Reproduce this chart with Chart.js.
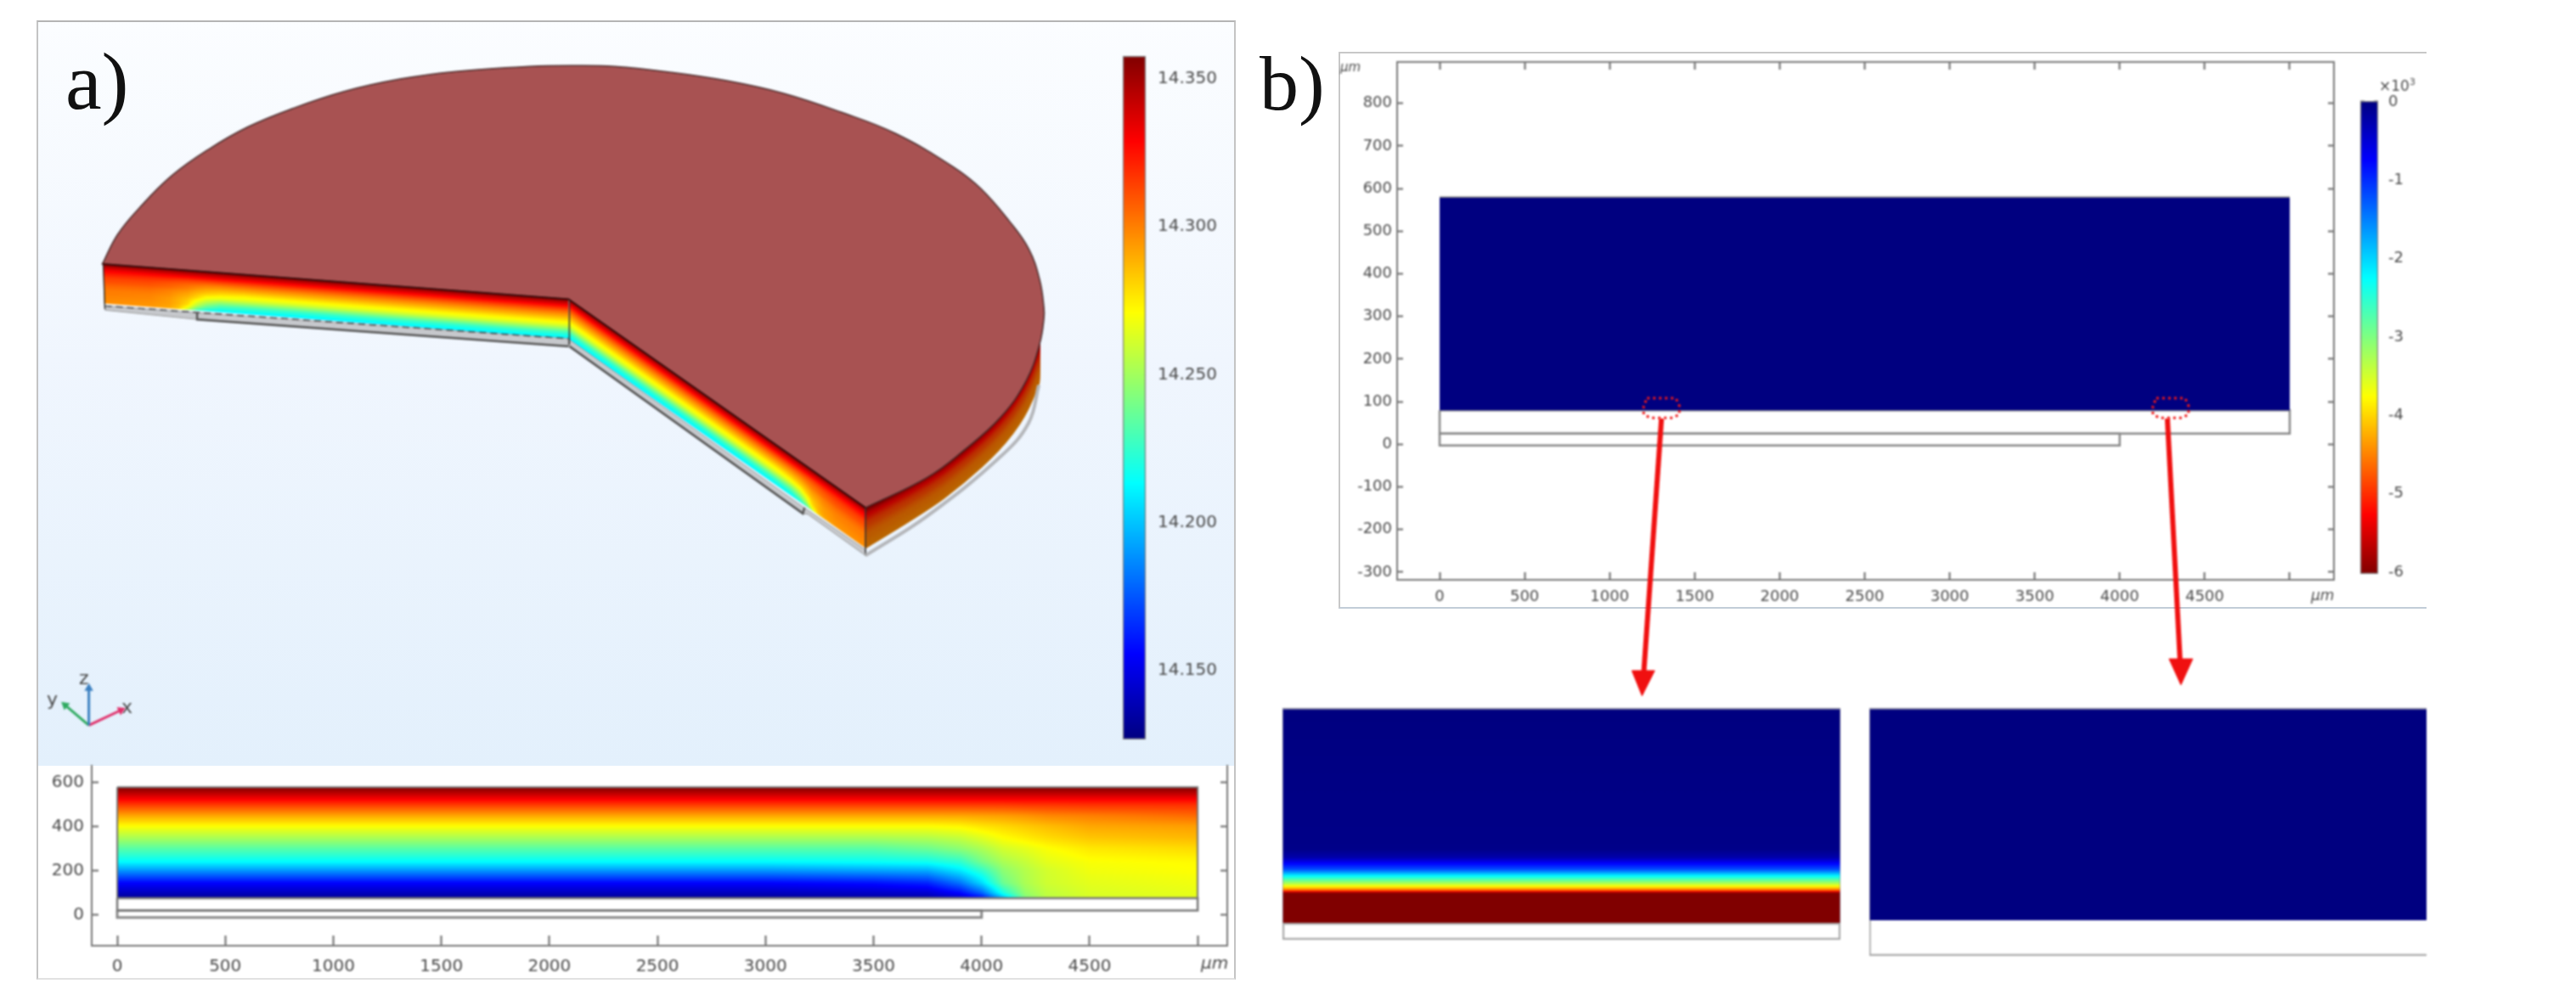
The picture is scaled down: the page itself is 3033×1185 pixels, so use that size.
<!DOCTYPE html>
<html>
<head>
<meta charset="utf-8">
<title>Temperature and stress fields</title>
<script src="https://cdn.jsdelivr.net/npm/chart.js@4/dist/chart.umd.min.js"></script>
<style>
  html, body { margin: 0; background: #fff; overflow: hidden; }
  #page { position: relative; width: 3033px; height: 1185px; overflow: hidden; }
  canvas { position: absolute; filter: blur(1.1px); }
  .frame { position: absolute; box-sizing: border-box; }
  .lbl { position: absolute; font-family: "DejaVu Sans", sans-serif; color: #4a4a4a; filter: blur(0.8px); white-space: nowrap; }
  .tag { position: absolute; font-family: "Liberation Serif", serif; color: #111; filter: blur(0.7px); line-height: 1; }
</style>
</head>
<body>
<div id="page">
  <div class="frame" style="left:43px;top:24px;width:1412px;height:1130px;border:2px solid #c4c4c4;border-top-color:#b4b4b4;border-bottom-color:#e2e2e2;"></div>
  <div class="frame" style="left:45px;top:26px;width:1408px;height:876px;background:linear-gradient(#fbfdff,#f0f6fe 45%,#e3f0fc);"></div>
  <div class="frame" style="left:1576px;top:61px;width:1281px;height:656px;border:2px solid #c8c8c8;border-right:none;border-bottom-color:#c2cdd8;"></div>
  <div class="tag" style="left:77px;top:48px;font-size:96px;">a)</div>
  <div class="tag" style="left:1483px;top:52px;font-size:92px;">b)</div>
  <div class="lbl" style="left:93px;top:786px;font-size:22px;">z</div>
  <div class="lbl" style="left:55px;top:811px;font-size:22px;">y</div>
  <div class="lbl" style="left:143px;top:820px;font-size:22px;">x</div>
  <div class="lbl" style="left:1414px;top:1122px;font-size:20px;font-style:italic;">μm</div>
  <div class="lbl" style="left:1578px;top:70px;font-size:15px;font-style:italic;">μm</div>
  <div class="lbl" style="left:2721px;top:691px;font-size:17px;font-style:italic;">μm</div>
  <div class="lbl" style="left:2801px;top:90px;font-size:17px;">×10<sup style="font-size:11px;">3</sup></div>
</div>

<script>
// --- axis ticks ---
const xTicks = [0, 500, 1000, 1500, 2000, 2500, 3000, 3500, 4000, 4500, 5000];
const xTickLabels = ["0", "500", "1000", "1500", "2000", "2500", "3000", "3500", "4000", "4500", ""];
const yTicksA = [0, 200, 400, 600];
const yTicksB = [-300, -200, -100, 0, 100, 200, 300, 400, 500, 600, 700, 800];
const tempTicks = [14.15, 14.20, 14.25, 14.30, 14.35];
const stressTicks = [-6, -5, -4, -3, -2, -1, 0];

// --- colour bar ranges ---
const tempRange = [14.1268, 14.3577];
const stressRange = [-6.02, 0.01];

// --- temperature field read off panel a), um and colour bar units ---
const fieldX = [0, 3000, 3500, 3750, 3900, 4000, 4100, 4200, 4300, 4500, 5000];
const fieldY = [76, 100, 145, 200, 241, 300, 350, 403, 450, 500, 524, 560, 580];
const fieldT = [
  [14.131, 14.131, 14.134, 14.135, 14.143, 14.155, 14.196, 14.242, 14.256, 14.262, 14.265],
  [14.141, 14.141, 14.143, 14.145, 14.157, 14.178, 14.219, 14.247, 14.257, 14.263, 14.266],
  [14.156, 14.156, 14.159, 14.164, 14.182, 14.205, 14.238, 14.252, 14.260, 14.265, 14.268],
  [14.189, 14.189, 14.192, 14.194, 14.208, 14.224, 14.245, 14.254, 14.261, 14.268, 14.271],
  [14.213, 14.213, 14.215, 14.217, 14.224, 14.240, 14.252, 14.258, 14.265, 14.270, 14.272],
  [14.233, 14.233, 14.233, 14.238, 14.245, 14.252, 14.261, 14.265, 14.270, 14.276, 14.279],
  [14.252, 14.252, 14.252, 14.254, 14.258, 14.264, 14.271, 14.275, 14.279, 14.284, 14.287],
  [14.271, 14.271, 14.271, 14.271, 14.273, 14.277, 14.280, 14.283, 14.286, 14.291, 14.293],
  [14.291, 14.291, 14.291, 14.291, 14.291, 14.292, 14.293, 14.295, 14.298, 14.300, 14.305],
  [14.316, 14.316, 14.316, 14.316, 14.316, 14.316, 14.316, 14.317, 14.317, 14.318, 14.318],
  [14.329, 14.329, 14.329, 14.329, 14.329, 14.329, 14.329, 14.329, 14.329, 14.329, 14.329],
  [14.348, 14.348, 14.348, 14.348, 14.348, 14.348, 14.348, 14.348, 14.348, 14.348, 14.348],
  [14.358, 14.358, 14.358, 14.358, 14.358, 14.358, 14.358, 14.358, 14.358, 14.358, 14.358]
];
// the 3D walls only reach down to cyan, so their colour span is narrower
const wallSpan = 0.66;

// --- device layers, um ---
const layerUpperX = [0, 5000, 5000, 0, 0];
const layerUpperYA = [76, 76, 20, 20, 76];
const layerUpperYB = [80, 80, 25, 25, 80];
const layerLowerX = [0, 4000, 4000, 0, 0];
const layerLowerYA = [20, 20, -12, -12, 20];
const layerLowerYB = [25, 25, -3, -3, 25];
const outlineX = [0, 5000, 5000, 0, 0];
const outlineYA = [580, 580, 76, 76, 580];

// --- panel b) field and zoom markers, um ---
const fieldBX = [0, 5000];
const fieldBTop = [580, 580];
const fieldBBase = 80;
const markLeftX = [1220, 1390, 1410, 1410, 1370, 1240, 1200, 1200, 1220];
const markRightX = [4215, 4385, 4405, 4405, 4365, 4235, 4195, 4195, 4215];
const markY = [108, 108, 90, 70, 62, 62, 70, 90, 108];

// --- stress profile of the left inset, height and stress (x10^3) ---
const insetHeight = [20, 55, 57, 59, 63, 67, 75, 83, 90, 97, 107, 273];
const insetStress = [-6, -6, -5.2, -4.5, -3.75, -3.2, -2.25, -1.2, -0.75, -0.25, -0.05, 0];
const insetLeftRange = [0, 273];
const insetLeftField = [20, 273];
const insetLeftLayer = [0, 20];
const insetRightRange = [0, 292];
const insetRightField = [42, 292];
const insetRightLayer = [0, 42];

// --- 3D view outlines in view units ---
const discX = [666, 666, 115, 115, 133, 160, 197, 240, 287, 340, 400, 467, 533, 620, 670, 720, 787, 853, 920, 987, 1053, 1120, 1153, 1187, 1210, 1223, 1228, 1228, 1223, 1207, 1177, 1133, 1090, 1017, 1017, 666, 666];
const discY = [350, 350, 308, 308, 273, 240, 203, 172, 145, 123, 103, 88, 79, 73, 72, 73, 80, 90, 105, 127, 153, 192, 218, 257, 290, 327, 360, 373, 403, 447, 490, 530, 562, 598, 598, 350, 350];
const notchX = [115, 666, 1017];
const notchY = [308, 350, 598];
const rimX = [1223, 1207, 1177, 1133, 1090, 1017];
const rimTopY = [403, 447, 490, 530, 562, 598];
const rimBaseY = [450, 490, 530, 570, 603, 647];
const rimEdgeX = [1017, 1090, 1177, 1210, 1222];
const rimEdgeY = [655, 608, 537, 497, 452];
// wall corners: x=0 top, x=5000 top, x=0 base
const wallLeftX = [666, 116, 667];
const wallLeftY = [350, 308, 397];
const wallRightX = [667, 1017, 667];
const wallRightY = [350, 598, 398];
const slabLeftX = [118, 227, 227, 666, 666, 227, 118];
const slabLeftY = [358, 366, 366, 397, 406, 374, 363];
const slabRightX = [667, 943, 1017, 1017, 949, 943, 667];
const slabRightY = [398, 597, 648, 655, 606, 605, 406];
const edgeLowerLeftX = [227, 227, 666];
const edgeLowerLeftY = [366, 374, 406];
const edgeLowerRightX = [667, 943, 945];
const edgeLowerRightY = [406, 605, 598];
const dashLeftX = [118, 666];
const dashLeftY = [358, 397];
const cornerAX = [667, 667];
const cornerAY = [350, 404];
const cornerBX = [116, 118];
const cornerBY = [308, 362];
const cornerCX = [1017, 1017];
const cornerCY = [598, 652];

// --- orientation triad ---
const triadZX = [99, 99];
const triadZY = [857, 813];
const triadXX = [99, 137];
const triadXY = [857, 839];
const triadYX = [99, 71];
const triadYY = [857, 833];

// --- arrows linking panel b) to the insets ---
const arrowLeftX = [1958, 1937];
const arrowLeftY = [492, 795];
const headLeftX = [1923, 1950, 1935, 1923];
const headLeftY = [792, 792, 822, 792];
const arrowRightX = [2556, 2571];
const arrowRightY = [492, 780];
const headRightX = [2558, 2586, 2572, 2558];
const headRightY = [778, 778, 809, 778];

// --- rainbow colour map ---
const jetPos = [0, 0.125, 0.375, 0.625, 0.875, 1];
const jetR = [0, 0, 0, 255, 255, 128];
const jetG = [0, 0, 255, 255, 0, 0];
const jetB = [128, 255, 255, 0, 0, 0];

function jet(t) {
  t = Math.max(0, Math.min(1, t));
  let i = 0;
  while (i < jetPos.length - 2 && t > jetPos[i + 1]) i++;
  const f = (t - jetPos[i]) / (jetPos[i + 1] - jetPos[i]);
  return [
    jetR[i] + (jetR[i + 1] - jetR[i]) * f,
    jetG[i] + (jetG[i + 1] - jetG[i]) * f,
    jetB[i] + (jetB[i + 1] - jetB[i]) * f
  ];
}
function css(c, shade) {
  const s = shade === undefined ? 1 : shade;
  return "rgb(" + Math.round(c[0] * s) + "," + Math.round(c[1] * s) + "," + Math.round(c[2] * s) + ")";
}
const tempT = v => (v - tempRange[0]) / (tempRange[1] - tempRange[0]);
const wallT = v => 1 - wallSpan * (1 - tempT(v));

function locate(arr, v) {
  let i = 0;
  while (i < arr.length - 2 && v > arr[i + 1]) i++;
  return [i, Math.max(0, Math.min(1, (v - arr[i]) / (arr[i + 1] - arr[i])))];
}
function fieldAt(x, y) {
  const [c, fx] = locate(fieldX, x);
  const [r, fy] = locate(fieldY, y);
  const a = fieldT[r][c] + (fieldT[r][c + 1] - fieldT[r][c]) * fx;
  const b = fieldT[r + 1][c] + (fieldT[r + 1][c + 1] - fieldT[r + 1][c]) * fx;
  return a + (b - a) * fy;
}

// paint the field once, charts place it through their scales
function paintField(toT) {
  const img = document.createElement("canvas");
  img.width = 1000;
  img.height = 252;
  const g = img.getContext("2d");
  const im = g.createImageData(img.width, img.height);
  for (let j = 0; j < img.height; j++) {
    const y = 580 - (j + 0.5) / img.height * 504;
    for (let i = 0; i < img.width; i++) {
      const x = (i + 0.5) / img.width * 5000;
      const c = jet(toT(fieldAt(x, y)));
      const k = (j * img.width + i) * 4;
      im.data[k] = c[0];
      im.data[k + 1] = c[1];
      im.data[k + 2] = c[2];
      im.data[k + 3] = 255;
    }
  }
  g.putImageData(im, 0, 0);
  return img;
}
const fieldImg = paintField(tempT);
const wallImg = paintField(wallT);

function place(left, top, w, h) {
  const c = document.createElement("canvas");
  c.width = w;
  c.height = h;
  c.style.left = left + "px";
  c.style.top = top + "px";
  document.getElementById("page").appendChild(c);
  return c;
}

// smaller helpers for the chart options
function line(xs, ys, color, width, extra) {
  return Object.assign({
    type: "scatter", showLine: true, data: xs.map((x, i) => ({ x: x, y: ys[i] })),
    borderColor: color, borderWidth: width, pointRadius: 0, tension: 0, clip: false, fill: false
  }, extra || {});
}
function fixedTicks(scale, values) {
  scale.ticks = values.map(v => ({ value: v }));
}
function axis(opts) {
  const size = opts.size;
  const horizontal = opts.position === "bottom" || opts.position === "top";
  return {
    type: "linear", position: opts.position, min: opts.min, max: opts.max,
    afterBuildTicks: s => fixedTicks(s, opts.ticks),
    afterFit: s => {
      if (horizontal) s.height = size; else s.width = size;
      // labels must not push the plot area in
      s.paddingTop = s.paddingBottom = s.paddingLeft = s.paddingRight = 0;
    },
    border: { display: opts.border !== false, color: "#777", width: 2 },
    grid: { drawOnChartArea: false, drawTicks: true, tickLength: -opts.tick, tickColor: "#666", tickWidth: 2 },
    ticks: {
      display: !!opts.format, autoSkip: false, maxRotation: 0, minRotation: 0,
      padding: opts.pad || 0, color: "#4a4a4a", callback: opts.format,
      font: { family: "DejaVu Sans", size: opts.font || 18 }
    }
  };
}
const base = {
  responsive: false, animation: false, devicePixelRatio: 1,
  plugins: { legend: { display: false }, tooltip: { enabled: false } }
};
const xLabel = v => xTickLabels[xTicks.indexOf(v)];

// --- panel a) cross-section ---
new Chart(place(45, 896, 1408, 257), {
  type: "scatter",
  data: {
    datasets: [
      line(outlineX, outlineYA, "#777", 2),
      line(layerUpperX, layerUpperYA, "#777", 2.5),
      line(layerLowerX, layerLowerYA, "#888", 3)
    ]
  },
  options: Object.assign({}, base, {
    layout: { padding: { top: 6 } },
    scales: {
      x: axis({ position: "bottom", min: -118, max: 5137, ticks: xTicks, size: 39, tick: 12, pad: 25, font: 20, format: xLabel }),
      y: axis({ position: "left", min: -140, max: 677, ticks: yTicksA, size: 63, tick: 8, pad: 17, font: 20, format: v => String(v) }),
      y2: axis({ position: "right", min: -140, max: 677, ticks: yTicksA, size: 8, tick: 8 })
    }
  }),
  plugins: [{
    id: "fieldA",
    beforeDatasetsDraw(chart) {
      const x = chart.scales.x, y = chart.scales.y, c = chart.ctx;
      const l = x.getPixelForValue(0), r = x.getPixelForValue(5000);
      const t = y.getPixelForValue(580), b = y.getPixelForValue(76);
      c.drawImage(fieldImg, l, t, r - l, b - t);
    }
  }]
});

// --- temperature colour bar ---
function colorBar(canvas, range, ticks, opts) {
  new Chart(canvas, {
    type: "bar",
    data: {
      labels: [""],
      datasets: [{
        data: [range],
        barPercentage: 1, categoryPercentage: 1,
        borderColor: "#777", borderWidth: 1.5, borderSkipped: false,
        backgroundColor(ctx) {
          const area = ctx.chart.chartArea;
          if (!area) return "#000";
          const g = ctx.chart.ctx.createLinearGradient(0, area.bottom, 0, area.top);
          jetPos.forEach((p, i) => {
            const at = opts.flip ? 1 - p : p;
            g.addColorStop(at, css([jetR[i], jetG[i], jetB[i]]));
          });
          return g;
        }
      }]
    },
    options: Object.assign({}, base, {
      layout: { padding: { top: opts.top, bottom: opts.bottom } },
      scales: {
        x: { display: false },
        y: axis({ position: "right", min: range[0], max: range[1], ticks: ticks, size: opts.right, tick: 5, pad: opts.pad, font: opts.font, border: false, format: opts.format }),
        y2: axis({ position: "left", min: range[0], max: range[1], ticks: ticks, size: 1, tick: 5, border: false })
      }
    })
  });
}
colorBar(place(1321, 56, 130, 825), tempRange, tempTicks, {
  top: 10, bottom: 10, right: 102, pad: 19, font: 20, format: v => v.toFixed(3)
});
colorBar(place(2778, 109, 79, 577), stressRange, stressTicks, {
  top: 10, bottom: 10, right: 57, pad: 17, font: 18, flip: true, format: v => String(v)
});

// --- panel b) cross-section ---
new Chart(place(1578, 64, 1178, 652), {
  type: "scatter",
  data: {
    datasets: [
      line(markLeftX, markY, "#f01818", 3, { borderDash: [3, 4] }),
      line(markRightX, markY, "#f01818", 3, { borderDash: [3, 4] }),
      line(fieldBX, fieldBTop, "#777", 1.5, { fill: { value: fieldBBase }, backgroundColor: "#000080" }),
      line(layerUpperX, layerUpperYB, "#888", 2.5),
      line(layerLowerX, layerLowerYB, "#888", 2.5)
    ]
  },
  options: Object.assign({}, base, {
    scales: {
      x: axis({ position: "bottom", min: -250, max: 5260, ticks: xTicks, size: 33, tick: 9, pad: 19, format: xLabel }),
      x2: axis({ position: "top", min: -250, max: 5260, ticks: xTicks, size: 9, tick: 9 }),
      y: axis({ position: "left", min: -318, max: 897, ticks: yTicksB, size: 67, tick: 7, pad: 13, format: v => String(v) }),
      y2: axis({ position: "right", min: -318, max: 897, ticks: yTicksB, size: 8, tick: 7 })
    }
  })
});

// --- insets below panel b) ---
new Chart(place(1508, 832, 661, 277), {
  type: "bar",
  data: {
    labels: [""],
    datasets: [
      {
        data: [insetLeftField], grouped: false, barPercentage: 1, categoryPercentage: 1,
        borderColor: "#8a8aa0", borderWidth: { top: 2, left: 1, right: 1 }, borderSkipped: false,
        backgroundColor(ctx) {
          const area = ctx.chart.chartArea;
          const y = ctx.chart.scales.y;
          if (!area || !y) return "#000080";
          const g = ctx.chart.ctx.createLinearGradient(0, y.getPixelForValue(insetHeight[0]), 0, y.getPixelForValue(insetHeight[insetHeight.length - 1]));
          const span = insetHeight[insetHeight.length - 1] - insetHeight[0];
          insetHeight.forEach((h, i) => g.addColorStop((h - insetHeight[0]) / span, css(jet(-insetStress[i] / 6))));
          return g;
        }
      },
      {
        data: [insetLeftLayer], grouped: false, barPercentage: 1, categoryPercentage: 1,
        backgroundColor: "#fff", borderColor: "#a8a8a8", borderWidth: 2.5, borderSkipped: false
      }
    ]
  },
  options: Object.assign({}, base, {
    layout: { padding: 2 },
    scales: { x: { display: false }, y: { display: false, min: insetLeftRange[0], max: insetLeftRange[1] } }
  })
});
new Chart(place(2199, 832, 658, 296), {
  type: "bar",
  data: {
    labels: [""],
    datasets: [
      {
        data: [insetRightField], grouped: false, barPercentage: 1, categoryPercentage: 1,
        backgroundColor: "#000080", borderColor: "#8a8aa0", borderWidth: { top: 2, left: 1 }, borderSkipped: false
      },
      {
        data: [insetRightLayer], grouped: false, barPercentage: 1, categoryPercentage: 1,
        backgroundColor: "#fff", borderColor: "#a8a8a8", borderWidth: { left: 2, bottom: 2.5 }, borderSkipped: false
      }
    ]
  },
  options: Object.assign({}, base, {
    layout: { padding: { left: 2, top: 2, bottom: 2 } },
    scales: { x: { display: false }, y: { display: false, min: insetRightRange[0], max: insetRightRange[1] } }
  })
});

// --- 3D view and arrows, one overlay in view units ---
const arrowFill = { fill: "shape", backgroundColor: "#f01010" };
new Chart(place(0, 0, 3033, 1185), {
  type: "scatter",
  data: {
    datasets: [
      line(arrowLeftX, arrowLeftY, "#f01010", 6),
      line(arrowRightX, arrowRightY, "#f01010", 6),
      line(headLeftX, headLeftY, "#f01010", 1, arrowFill),
      line(headRightX, headRightY, "#f01010", 1, arrowFill),
      line(triadZX, triadZY, "#3a7fc0", 3, { pointRadius: [0, 6], pointStyle: "triangle", pointBackgroundColor: "#3a7fc0", pointBorderWidth: 0, pointRotation: [0, 0] }),
      line(triadXX, triadXY, "#e0306a", 3, { pointRadius: [0, 6], pointStyle: "triangle", pointBackgroundColor: "#e0306a", pointBorderWidth: 0, pointRotation: [0, 65] }),
      line(triadYX, triadYY, "#2faa60", 3, { pointRadius: [0, 6], pointStyle: "triangle", pointBackgroundColor: "#2faa60", pointBorderWidth: 0, pointRotation: [0, -50] }),
      line(notchX, notchY, "#3a0a0a", 2),
      line(discX, discY, "#4a2c2c", 1.5, { tension: 0.4, fill: "shape", backgroundColor: "#a85252" }),
      line(cornerAX, cornerAY, "#333", 1.5),
      line(cornerBX, cornerBY, "#333", 1.5),
      line(cornerCX, cornerCY, "#333", 1.5),
      line(dashLeftX, dashLeftY, "#444", 1.5, { borderDash: [8, 5] }),
      line(edgeLowerLeftX, edgeLowerLeftY, "#555", 2.5),
      line(edgeLowerRightX, edgeLowerRightY, "#555", 2.5),
      line(slabLeftX, slabLeftY, "#999", 1, { fill: "shape", backgroundColor: "#c6c8cc" }),
      line(slabRightX, slabRightY, "#999", 1, { fill: "shape", backgroundColor: "#c6c8cc" }),
      line(rimEdgeX, rimEdgeY, "#b4b6ba", 4, { tension: 0.4 })
    ]
  },
  options: Object.assign({}, base, {
    layout: { padding: 0 },
    scales: {
      x: { type: "linear", display: false, min: 0, max: 3033 },
      y: { type: "linear", display: false, min: 0, max: 1185, reverse: true }
    }
  }),
  plugins: [{
    id: "walls",
    beforeDatasetsDraw(chart) {
      const sx = chart.scales.x, sy = chart.scales.y, c = chart.ctx;
      const px = v => sx.getPixelForValue(v), py = v => sy.getPixelForValue(v);

      // outer rim: bands of the x=5000 profile, shaded, between disc edge and rim base
      const bands = 60, n = rimX.length;
      for (let b = bands; b >= 1; b--) {
        const f = b / bands;
        const v = fieldAt(5000, 580 - (f - 0.5 / bands) * 504);
        const at = i => py(rimTopY[i] + (rimBaseY[i] - rimTopY[i]) * f);
        c.fillStyle = css(jet(wallT(v)), 0.73);
        c.beginPath();
        c.moveTo(px(rimX[0]), py(rimTopY[0]));
        for (let i = 1; i < n; i++) c.lineTo(px(rimX[i]), py(rimTopY[i]));
        c.lineTo(px(rimX[n - 1]), at(n - 1));
        for (let i = n - 1; i > 1; i--) {
          c.quadraticCurveTo(px(rimX[i - 1]), at(i - 1), (px(rimX[i - 1]) + px(rimX[i - 2])) / 2, (at(i - 1) + at(i - 2)) / 2);
        }
        c.lineTo(px(rimX[0]), at(0));
        c.closePath();
        c.fill();
      }

      // straight walls: field image mapped onto the two faces
      [[wallLeftX, wallLeftY], [wallRightX, wallRightY]].forEach(w => {
        const ax = px(w[0][0]), ay = py(w[1][0]);
        c.save();
        c.transform(
          (px(w[0][1]) - ax) / wallImg.width, (py(w[1][1]) - ay) / wallImg.width,
          (px(w[0][2]) - ax) / wallImg.height, (py(w[1][2]) - ay) / wallImg.height,
          ax, ay
        );
        c.drawImage(wallImg, 0, 0);
        c.restore();
      });
    }
  }]
});
</script>
</body>
</html>
